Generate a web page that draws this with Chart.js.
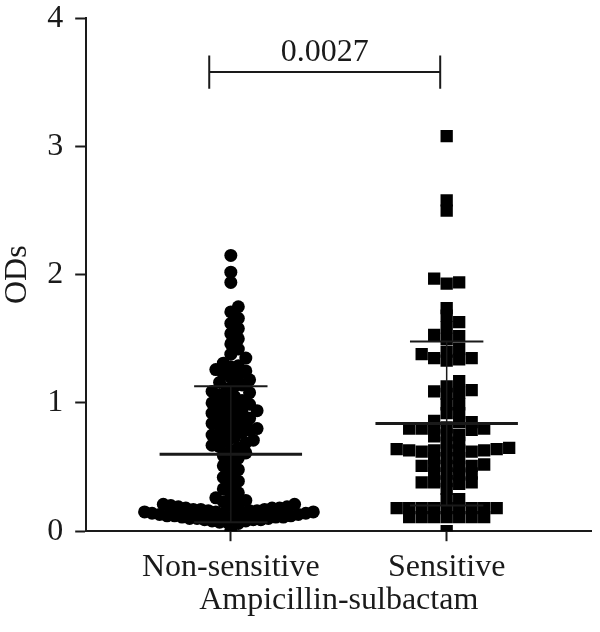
<!DOCTYPE html>
<html>
<head>
<meta charset="utf-8">
<script src="https://cdn.jsdelivr.net/npm/chart.js@4/dist/chart.umd.min.js"></script>
<style>
  html, body { margin: 0; padding: 0; background: #fff; }
  #frame { width: 600px; height: 632px; position: relative; overflow: hidden; }
  #wrap { width: 600px; height: 639px; position: absolute; left: 0; top: -13px; }
</style>
</head>
<body>
<div id="frame"><div id="wrap"><canvas id="c"></canvas></div></div>
<script>
// groups on the x axis
const groups = ['Non-sensitive', 'Sensitive'];
const xTitle = 'Ampicillin-sulbactam';
const yTitle = 'ODs';
const yTicks = [0, 1, 2, 3, 4];

// OD values
const nonSensitive = [
  2.15, 2.02, 1.94,
  1.75, 1.71, 1.66, 1.62, 1.58, 1.54, 1.50, 1.46, 1.42, 1.38, 1.35,
  1.31, 1.29, 1.28, 1.26, 1.25, 1.23, 1.21, 1.20, 1.18, 1.16, 1.14, 1.13, 1.11, 1.09, 1.08, 1.06, 1.05, 1.03, 1.02, 1.00,
  0.99, 0.98, 0.97, 0.95, 0.94, 0.93, 0.92, 0.90, 0.89, 0.88, 0.87, 0.85, 0.84, 0.82, 0.81, 0.80,
  0.79, 0.78, 0.77, 0.75, 0.74, 0.73, 0.71, 0.70, 0.69, 0.67, 0.66, 0.65, 0.63, 0.61, 0.59, 0.57,
  0.54, 0.51, 0.48, 0.45, 0.42, 0.39, 0.36, 0.33, 0.30, 0.28, 0.26,
  0.24, 0.23, 0.22, 0.21, 0.21, 0.20, 0.20, 0.19, 0.19, 0.18, 0.18,
  0.18, 0.17, 0.17, 0.17, 0.16, 0.16, 0.16, 0.15, 0.15, 0.15, 0.15, 0.14,
  0.14, 0.14, 0.13, 0.13, 0.13, 0.12, 0.12, 0.12, 0.11, 0.11, 0.11,
  0.10, 0.10, 0.10, 0.09, 0.09, 0.09, 0.08, 0.08, 0.07, 0.07, 0.06,
  0.00
];
const sensitive = [
  3.08, 2.58, 2.50, 1.97, 1.94, 1.93, 1.74, 1.68, 1.63, 1.59, 1.53, 1.52, 1.50,
  1.42, 1.40, 1.38, 1.35, 1.35, 1.34, 1.33, 1.17, 1.13, 1.10, 1.09, 1.08, 1.07,
  0.99, 0.99, 0.92, 0.92, 0.86, 0.85, 0.85, 0.81, 0.80, 0.80, 0.80, 0.79, 0.80,
  0.75, 0.75, 0.74, 0.69, 0.69,
  0.64, 0.63, 0.63, 0.63, 0.62, 0.63, 0.64, 0.63, 0.62, 0.65,
  0.57, 0.57, 0.57, 0.51, 0.51, 0.52, 0.51, 0.50, 0.51,
  0.45, 0.45, 0.44, 0.45, 0.38, 0.38, 0.39, 0.38, 0.37, 0.33, 0.25, 0.25,
  0.18, 0.18, 0.18, 0.18, 0.18, 0.18, 0.18, 0.18, 0.18,
  0.11, 0.11, 0.11, 0.11, 0.11, 0.11, 0.11,
  0.00
];

// summary lines (mean and SD) per group
const means = [0.60, 0.84];
const sds = [0.53, 0.64];

// significance bracket
const pValue = '0.0027';
const bracketFrom = 0.9, bracketTo = 1.97, bracketLevel = 3.58;

const FONT = '"Liberation Serif", "Times New Roman", serif';
const INK = '#1a1a1a';
const FS = 32;

// simple beeswarm, offsets in pixels
function swarm(values, toPx, step, hit) {
  const order = values.map((v, i) => i).sort((a, b) => values[a] - values[b]);
  const placed = [];
  const off = new Array(values.length).fill(0);
  for (const i of order) {
    const py = toPx(values[i]);
    for (let k = 0; k < 400; k++) {
      const dx = (k % 2 ? 1 : -1) * Math.ceil(k / 2) * step;
      if (!placed.some(p => hit(p.x - dx, p.y - py))) {
        off[i] = dx;
        placed.push({x: dx, y: py});
        break;
      }
    }
  }
  return off;
}

const summaryPlugin = {
  id: 'summary',
  afterDatasetsDraw(chart) {
    const {ctx, scales: {x, y}} = chart;
    const unit = x.getPixelForValue(2) - x.getPixelForValue(1);
    ctx.save();
    ctx.strokeStyle = INK;
    groups.forEach((g, i) => {
      const cx = x.getPixelForValue(i + 1);
      const m = y.getPixelForValue(means[i]);
      const hi = y.getPixelForValue(means[i] + sds[i]);
      const lo = y.getPixelForValue(Math.max(0, means[i] - sds[i]));
      ctx.lineWidth = 1.5;
      ctx.beginPath(); ctx.moveTo(cx, hi); ctx.lineTo(cx, lo); ctx.stroke();
      ctx.lineWidth = 3;
      ctx.beginPath(); ctx.moveTo(cx - 0.33 * unit, m); ctx.lineTo(cx + 0.33 * unit, m); ctx.stroke();
      ctx.lineWidth = 2;
      ctx.beginPath(); ctx.moveTo(cx - 0.17 * unit, hi); ctx.lineTo(cx + 0.17 * unit, hi); ctx.stroke();
      ctx.beginPath(); ctx.moveTo(cx - 0.17 * unit, lo); ctx.lineTo(cx + 0.17 * unit, lo); ctx.stroke();
    });
    // bracket
    const x1 = x.getPixelForValue(bracketFrom), x2 = x.getPixelForValue(bracketTo);
    const by = y.getPixelForValue(bracketLevel);
    const t = y.getPixelForValue(bracketLevel + 0.13) - by;
    ctx.lineWidth = 2;
    ctx.beginPath();
    ctx.moveTo(x1, by); ctx.lineTo(x2, by);
    ctx.moveTo(x1, by + t); ctx.lineTo(x1, by - t);
    ctx.moveTo(x2, by + t); ctx.lineTo(x2, by - t);
    ctx.stroke();
    ctx.fillStyle = INK;
    ctx.font = FS + 'px ' + FONT;
    ctx.textAlign = 'center';
    ctx.textBaseline = 'alphabetic';
    ctx.fillText(pValue, (x1 + x2) / 2, by - 11);
    ctx.restore();
  }
};

const chart = new Chart(document.getElementById('c'), {
  type: 'scatter',
  data: {
    datasets: [
      {
        label: groups[0],
        data: nonSensitive.map(v => ({x: 1, y: v})),
        pointStyle: 'circle', pointRadius: 6.5, pointHoverRadius: 6.5,
        backgroundColor: '#000', borderColor: '#000', borderWidth: 0
      },
      {
        label: groups[1],
        data: sensitive.map(v => ({x: 2, y: v})),
        pointStyle: 'rect', pointRadius: 8.7, pointHoverRadius: 8.7,
        backgroundColor: '#000', borderColor: '#000', borderWidth: 0
      }
    ]
  },
  options: {
    responsive: true,
    maintainAspectRatio: false,
    animation: false,
    layout: {padding: {top: 0, right: 0, bottom: 6, left: 0}},
    plugins: {legend: {display: false}, tooltip: {enabled: false}},
    scales: {
      x: {
        type: 'linear', min: 0.33, max: 2.67,
        afterBuildTicks: s => { s.ticks = groups.map((g, i) => ({value: i + 1})); },
        ticks: {
          callback: v => groups[v - 1] || '',
          autoSkip: false, maxRotation: 0, color: INK, padding: 7,
          font: {family: FONT, size: FS}
        },
        grid: {drawOnChartArea: false, tickLength: 10, tickWidth: 2, tickColor: INK},
        border: {color: INK, width: 2},
        title: {display: true, text: xTitle, color: INK, font: {family: FONT, size: FS}, padding: {top: -12, bottom: 0}}
      },
      y: {
        min: 0, max: 4,
        afterBuildTicks: s => { s.ticks = yTicks.map(v => ({value: v})); },
        ticks: {color: INK, padding: 12, font: {family: FONT, size: FS}},
        grid: {drawOnChartArea: false, tickLength: 11, tickWidth: 2, tickColor: INK},
        border: {color: INK, width: 2},
        title: {display: true, text: yTitle, color: INK, font: {family: FONT, size: FS, lineHeight: 1.1}, padding: {top: 0, bottom: 0}}
      }
    }
  },
  plugins: [summaryPlugin]
});

// lay the points out as a swarm around each group centre
(function layout() {
  const x = chart.scales.x, y = chart.scales.y;
  const unit = x.getPixelForValue(2) - x.getPixelForValue(1);
  const toPx = v => y.getPixelForValue(v);
  const offA = swarm(nonSensitive, toPx, 3.75, (dx, dy) => (dx / 7.5) ** 2 + (dy / 9) ** 2 < 1);
  const offB = swarm(sensitive, toPx, 12.5, (dx, dy) => Math.abs(dx) < 12 && Math.abs(dy) < 7.5);
  chart.data.datasets[0].data = nonSensitive.map((v, i) => ({x: 1 + offA[i] / unit, y: v}));
  chart.data.datasets[1].data = sensitive.map((v, i) => ({x: 2 + offB[i] / unit, y: v}));
  chart.update('none');
})();
</script>
</body>
</html>
